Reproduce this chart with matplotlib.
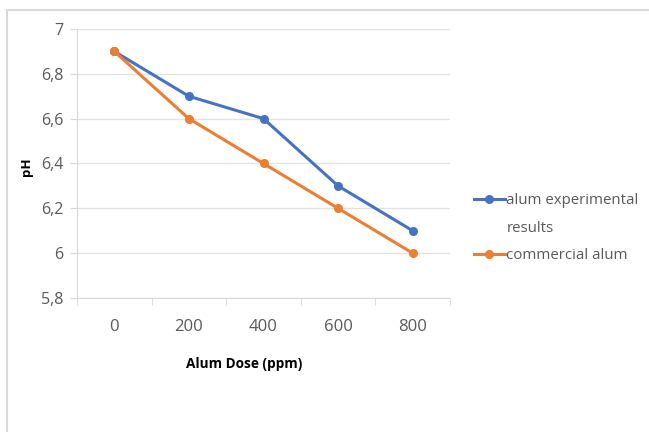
import matplotlib.pyplot as plt
from matplotlib.lines import Line2D
from matplotlib.patches import Rectangle

doses = ["0", "200", "400", "600", "800"]
ph_experimental = [6.9, 6.7, 6.6, 6.3, 6.1]
ph_commercial = [6.9, 6.6, 6.4, 6.2, 6.0]
y_ticks = [5.8, 6.0, 6.2, 6.4, 6.6, 6.8, 7.0]

plt.rcParams['font.family'] = ['Open Sans', 'DejaVu Sans']

fig = plt.figure(figsize=(6.49, 4.32), dpi=100)
# chart-area border (cut off on the right and bottom like the screenshot)
fig.patches.append(Rectangle((7 / 649, -0.1), 1.2, 1 - 10 / 432 + 0.1,
                             transform=fig.transFigure, fill=False,
                             edgecolor='#d9d9d9', linewidth=1.5))

ax = fig.add_axes([77 / 649, 1 - 298 / 432, 373 / 649, 269 / 432])
x = range(len(doses))
l1, = ax.plot(x, ph_experimental, color='#4472C4', lw=2.2, marker='o', ms=5.5)
l2, = ax.plot(x, ph_commercial, color='#ED7D31', lw=2.2, marker='o', ms=5.5)

ax.set_xlim(-0.5, len(doses) - 0.5)
ax.set_ylim(5.8, 7.0)
ax.set_yticks(y_ticks)
ax.set_yticklabels([f"{v:g}".replace('.', ',') for v in y_ticks])
ax.set_xticks(list(x))
ax.set_xticklabels(doses)
ax.set_xticks([i + 0.5 for i in range(-1, len(doses))], minor=True)

ax.grid(axis='y', color='#e3e3e3', lw=1)
ax.set_axisbelow(True)
for s in ['top', 'right']:
    ax.spines[s].set_visible(False)
for s in ['left', 'bottom']:
    ax.spines[s].set_color('#d9d9d9')
ax.tick_params(axis='x', which='major', length=0, pad=15,
               labelsize=12, labelcolor='#595959')
ax.tick_params(axis='x', which='minor', length=5, color='#d9d9d9')
ax.tick_params(axis='y', length=5, color='#d9d9d9', pad=5,
               labelsize=11.5, labelcolor='#595959')

ax.set_xlabel('Alum Dose (ppm)', fontsize=9.8, fontweight='bold')
ax.xaxis.set_label_coords((244 - 77) / 373, (298 - 357) / 269)
ax.set_ylabel('pH', fontsize=9.5, fontweight='bold')
ax.yaxis.set_label_coords((33 - 77) / 373, 0.49)

blank = Line2D([], [], color='none')
fig.legend([l1, blank, l2], ['alum experimental', 'results', 'commercial alum'],
           loc='center left', bbox_to_anchor=(460 / 649, 1 - 228 / 432),
           frameon=False, fontsize=10.8, handlelength=2.1, handletextpad=0.1,
           labelcolor='#595959', labelspacing=0.82)

fig.savefig('out.png', dpi=100)
